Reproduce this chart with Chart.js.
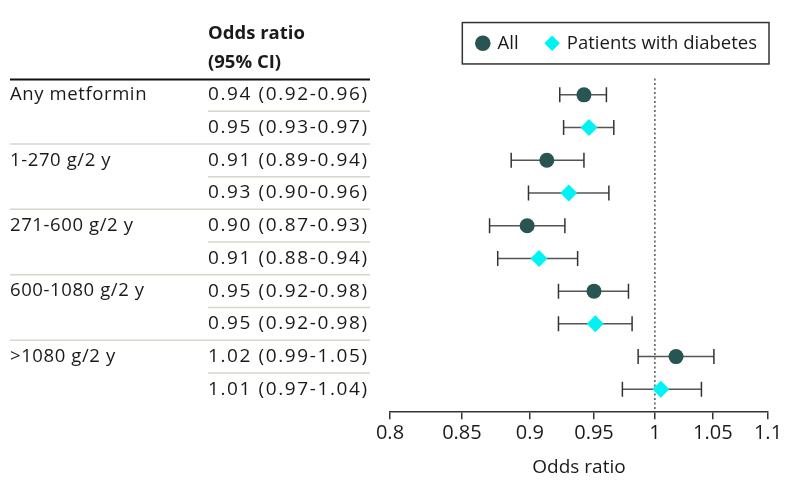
<!DOCTYPE html>
<html>
<head>
<meta charset="utf-8">
<script src="https://cdn.jsdelivr.net/npm/chart.js@4.4.1/dist/chart.umd.min.js"></script>
<style>
    html, body { margin: 0; padding: 0; background: #fff; }
    #wrap { width: 794px; height: 493px; position: relative; }
</style>
</head>
<body>
<div id="wrap"><canvas id="forestChart"></canvas></div>
<script>
// Forest plot: odds ratios for metformin exposure, all patients vs patients with diabetes.
// Log-scaled x axis, table of labels / OR (95% CI) on the left.

const groupLabels = ['Any metformin', '1-270 g/2 y', '271-600 g/2 y', '600-1080 g/2 y', '>1080 g/2 y'];
const orTextAll = ['0.94 (0.92-0.96)', '0.91 (0.89-0.94)', '0.90 (0.87-0.93)', '0.95 (0.92-0.98)', '1.02 (0.99-1.05)'];
const orTextDiab = ['0.95 (0.93-0.97)', '0.93 (0.90-0.96)', '0.91 (0.88-0.94)', '0.95 (0.92-0.98)', '1.01 (0.97-1.04)'];

const allEst = [0.942, 0.913, 0.898, 0.950, 1.018];
const allLo = [0.923, 0.886, 0.870, 0.922, 0.986];
const allHi = [0.960, 0.942, 0.927, 0.978, 1.051];

const diabEst = [0.946, 0.930, 0.907, 0.951, 1.005];
const diabLo = [0.926, 0.899, 0.876, 0.922, 0.973];
const diabHi = [0.966, 0.962, 0.937, 0.981, 1.040];

const tickValues = [0.8, 0.85, 0.9, 0.95, 1, 1.05, 1.1];
const tickLabels = ['0.8', '0.85', '0.9', '0.95', '1', '1.05', '1.1'];

const TEXT = '#1a1a1a';
const FONT = '"Open Sans", sans-serif';
Chart.defaults.font.family = FONT;

// rows: All on odd rows (1,3,..), diabetes on even rows (2,4,..)
const rowAll = i => i * 2 + 1;
const rowDiab = i => i * 2 + 2;

function ciDataset(lo, hi, row) {
    return {
        label: 'ci',
        data: [{ x: lo, y: row }, { x: hi, y: row }],
        showLine: true,
        borderColor: '#555',
        borderWidth: 1.5,
        pointStyle: 'line',
        pointRotation: 90,
        pointRadius: 7.5,
        pointHoverRadius: 7.5,
        pointBorderColor: '#333',
        pointBorderWidth: 1.5
    };
}

const ciSets = [
    ...allLo.map((lo, i) => ciDataset(lo, allHi[i], rowAll(i))),
    ...diabLo.map((lo, i) => ciDataset(lo, diabHi[i], rowDiab(i)))
];

const tablePlugin = {
    id: 'forestTable',
    afterLayout(chart) {
        // nudge the legend up/right so its frame sits above the plot like the original
        const lg = chart.legend;
        if (!lg) return;
        lg.left += 17; lg.right += 17;
        lg.top -= 16; lg.bottom -= 16;
    },
    beforeDatasetsDraw(chart) {
        const { ctx, chartArea, scales } = chart;
        const x1 = scales.x.getPixelForValue(1);
        ctx.save();
        ctx.strokeStyle = '#555';
        ctx.lineWidth = 1.5;
        ctx.setLineDash([2, 2.5]);
        ctx.beginPath();
        ctx.moveTo(x1, chartArea.top);
        ctx.lineTo(x1, chartArea.bottom);
        ctx.stroke();
        ctx.restore();
    },
    afterDraw(chart) {
        const { ctx, chartArea, scales } = chart;
        const ys = r => scales.y.getPixelForValue(r);
        const colL = 10, colOR = 208, colR = 370;
        ctx.save();
        ctx.fillStyle = TEXT;
        ctx.textBaseline = 'middle';
        ctx.textAlign = 'left';

        // header
        ctx.font = `bold 18.5px ${FONT}`;
        ctx.fillText('Odds ratio', colOR, chartArea.top - 45);
        ctx.fillText('(95% CI)', colOR, chartArea.top - 16);
        ctx.strokeStyle = '#111';
        ctx.lineWidth = 2;
        ctx.beginPath();
        ctx.moveTo(colL, chartArea.top + 1);
        ctx.lineTo(colR, chartArea.top + 1);
        ctx.stroke();

        // separators
        ctx.strokeStyle = '#d6d6cc';
        ctx.lineWidth = 1.5;
        for (let r = 1; r < groupLabels.length * 2; r++) {
            const y = (ys(r) + ys(r + 1)) / 2;
            ctx.beginPath();
            ctx.moveTo(r % 2 === 1 ? colOR : colL, y);
            ctx.lineTo(colR, y);
            ctx.stroke();
        }

        // body
        ctx.font = `18.5px ${FONT}`;
        ctx.letterSpacing = '0.6px';
        groupLabels.forEach((label, i) => ctx.fillText(label, colL, ys(rowAll(i))));
        ctx.font = `19px ${FONT}`;
        ctx.letterSpacing = '1.6px';
        groupLabels.forEach((label, i) => {
            ctx.fillText(orTextAll[i], colOR, ys(rowAll(i)));
            ctx.fillText(orTextDiab[i], colOR, ys(rowDiab(i)));
        });
        ctx.letterSpacing = '0px';

        // legend frame
        const boxes = chart.legend.legendHitBoxes;
        if (boxes && boxes.length) {
            const left = Math.min(...boxes.map(b => b.left)) - 15;
            const right = Math.max(...boxes.map(b => b.left + b.width)) + 12;
            const cy = boxes[0].top + boxes[0].height / 2;
            ctx.strokeStyle = '#333';
            ctx.lineWidth = 1.5;
            ctx.strokeRect(left, cy - 20.7, right - left, 41.4);
        }
        ctx.restore();
    }
};

new Chart(document.getElementById('forestChart'), {
    type: 'scatter',
    data: {
        datasets: [
            {
                label: 'All',
                data: allEst.map((v, i) => ({ x: v, y: rowAll(i) })),
                pointStyle: 'circle',
                pointRadius: 7.5,
                pointHoverRadius: 7.5,
                backgroundColor: '#285452',
                borderColor: '#285452',
                borderWidth: 0
            },
            {
                label: 'Patients with diabetes',
                data: diabEst.map((v, i) => ({ x: v, y: rowDiab(i) })),
                pointStyle: 'rectRot',
                pointRadius: 8.5,
                pointHoverRadius: 8.5,
                backgroundColor: '#00f2f2',
                borderColor: '#00f2f2',
                borderWidth: 0
            },
            ...ciSets
        ]
    },
    options: {
        responsive: true,
        maintainAspectRatio: false,
        animation: false,
        layout: { padding: { left: 390, right: 26, top: 22, bottom: 14 } },
        plugins: {
            tooltip: { enabled: false },
            legend: {
                position: 'top',
                align: 'end',
                labels: {
                    usePointStyle: true,
                    boxWidth: 11,
                    boxHeight: 11,
                    padding: 28,
                    color: TEXT,
                    font: { size: 18.5 },
                    filter: item => item.datasetIndex < 2
                }
            }
        },
        scales: {
            x: {
                type: 'logarithmic',
                min: 0.8,
                max: 1.1,
                afterBuildTicks: scale => { scale.ticks = tickValues.map(v => ({ value: v })); },
                ticks: {
                    callback: (v, i) => tickLabels[i],
                    autoSkip: false,
                    maxRotation: 0,
                    padding: 2,
                    color: TEXT,
                    font: { size: 20 }
                },
                grid: { drawOnChartArea: false, tickLength: 7, color: '#333', lineWidth: 1.5 },
                border: { color: '#333', width: 1.5 },
                title: { display: true, text: 'Odds ratio', color: TEXT, font: { size: 19 }, padding: { top: 9, bottom: 0 } }
            },
            y: { type: 'linear', min: 0.5, max: 10.7, reverse: true, display: false }
        }
    },
    plugins: [tablePlugin]
});
</script>
</body>
</html>
